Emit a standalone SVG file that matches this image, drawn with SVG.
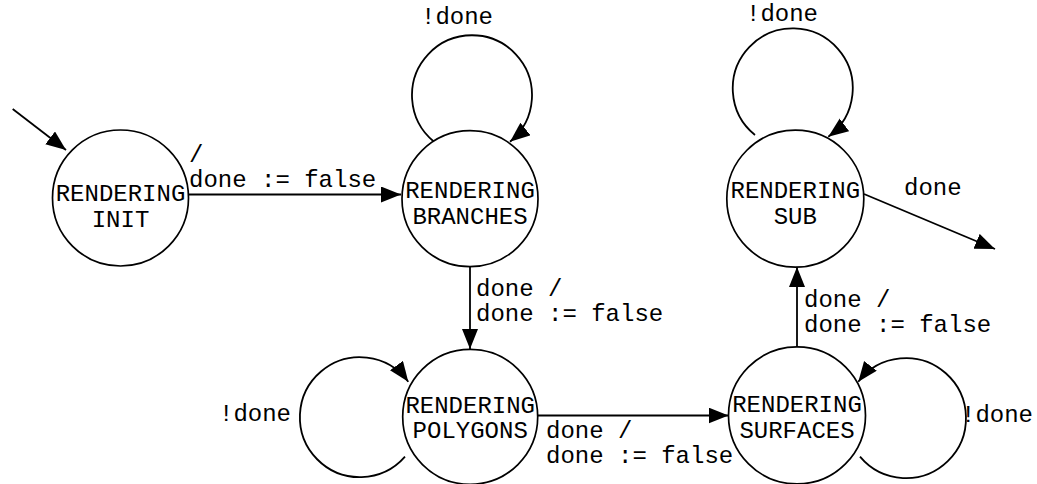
<svg xmlns="http://www.w3.org/2000/svg" width="1037" height="484" viewBox="0 0 1037 484">
<style>
.n{fill:#fff;stroke:#000;stroke-width:1.7}
.t{font-family:"Liberation Mono","Courier New",monospace;font-size:24px;fill:#000}
.m{text-anchor:middle}
.e{fill:none;stroke:#000;stroke-width:1.8}
</style>
<defs>
<marker id="ah" markerUnits="userSpaceOnUse" markerWidth="22" markerHeight="18" refX="20" refY="8" orient="auto">
<path d="M0,0 L20,8 L0,16 z" fill="#000"/>
</marker>
</defs>
<rect width="1037" height="484" fill="#fff"/>
<g id="connectors">
<path class="e" d="M12.7,109 L66,150" marker-end="url(#ah)"/>
<path class="e" d="M189,194.5 L401,194.5" marker-end="url(#ah)"/>
<path class="e" d="M470,266.7 L470,349" marker-end="url(#ah)"/>
<path class="e" d="M538,415.5 L728.5,415.5" marker-end="url(#ah)"/>
<path class="e" d="M797,346.7 L797,267" marker-end="url(#ah)"/>
<path class="e" d="M864,194 L995,249" marker-end="url(#ah)"/>
<path class="e" d="M434,141.7 A60,60 0 1 1 510,141.7" marker-end="url(#ah)"/>
<path class="e" d="M755,135 A60,60 0 1 1 828.3,136.7" marker-end="url(#ah)"/>
<path class="e" d="M405,456.7 A60,60 0 1 1 408.3,381.7" marker-end="url(#ah)"/>
<path class="e" d="M860,456.7 A60,60 0 1 0 858.3,381.7" marker-end="url(#ah)"/>
<text class="t" x="189" y="162">/</text>
<text class="t" x="189" y="187">done := false</text>
<text class="t" x="476" y="296">done /</text>
<text class="t" x="476" y="321">done := false</text>
<text class="t" x="546" y="438">done /</text>
<text class="t" x="546" y="463">done := false</text>
<text class="t" x="804" y="307">done /</text>
<text class="t" x="804" y="332">done := false</text>
<text class="t" x="904" y="195">done</text>
<text class="t" x="421" y="24">!done</text>
<text class="t" x="746" y="21">!done</text>
<text class="t" x="219" y="420.5">!done</text>
<text class="t" x="961" y="421.5">!done</text>
</g>
<g id="rendering-init">
<circle class="n" cx="120.5" cy="198" r="68"/>
<text class="t m" x="120.5" y="201">RENDERING</text>
<text class="t m" x="120.5" y="227">INIT</text>
</g>
<g id="rendering-branches">
<circle class="n" cx="470" cy="198.7" r="68"/>
<text class="t m" x="470" y="198">RENDERING</text>
<text class="t m" x="470" y="224">BRANCHES</text>
</g>
<g id="rendering-sub">
<circle class="n" cx="795.3" cy="198.7" r="68.5"/>
<text class="t m" x="795.3" y="197.5">RENDERING</text>
<text class="t m" x="795.3" y="224">SUB</text>
</g>
<g id="rendering-polygons">
<circle class="n" cx="470.2" cy="416.8" r="67.5"/>
<text class="t m" x="470.2" y="412.7">RENDERING</text>
<text class="t m" x="470.2" y="438.3">POLYGONS</text>
</g>
<g id="rendering-surfaces">
<circle class="n" cx="797" cy="415.4" r="68.5"/>
<text class="t m" x="797" y="411.7">RENDERING</text>
<text class="t m" x="797" y="438.3">SURFACES</text>
</g>
</svg>
